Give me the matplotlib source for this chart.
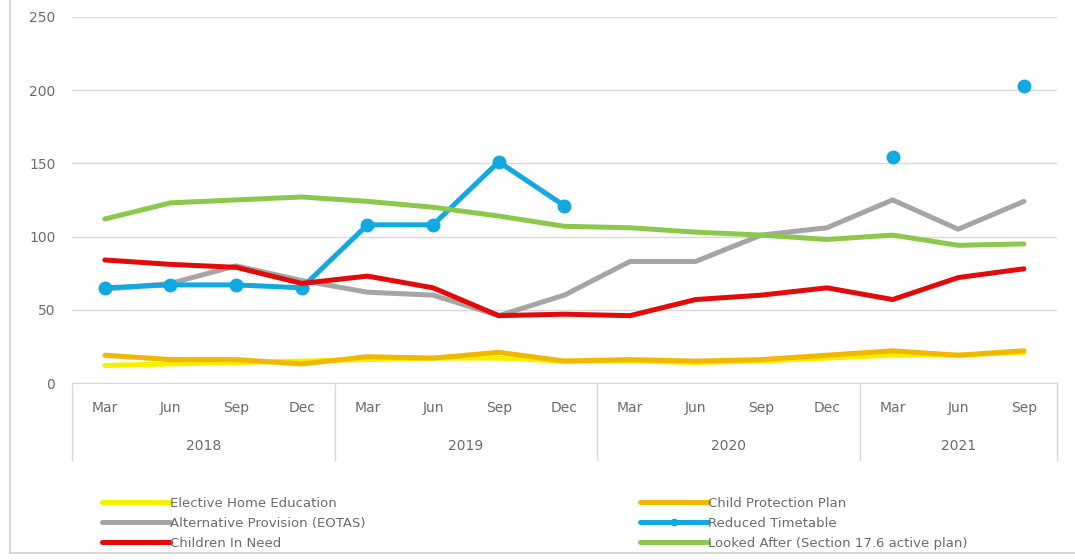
import numpy as np
import matplotlib.pyplot as plt
from matplotlib.lines import Line2D
from matplotlib.transforms import blended_transform_factory

plt.rcParams['font.family'] = ['DejaVu Sans']

months = ["Mar", "Jun", "Sep", "Dec", "Mar", "Jun", "Sep", "Dec",
          "Mar", "Jun", "Sep", "Dec", "Mar", "Jun", "Sep"]
years = ["2018", "2019", "2020", "2021"]
year_sizes = [4, 4, 4, 3]

nan = np.nan
elective_home = [12, 13, 14, 15, 16, 17, 17, 15, 15, 14, 15, 17, 19, 19, 21]
child_protection = [19, 16, 16, 13, 18, 17, 21, 15, 16, 15, 16, 19, 22, 19, 22]
alt_provision = [64, 68, 80, 70, 62, 60, 46, 60, 83, 83, 101, 106, 125, 105, 124]
reduced_tt = [65, 67, 67, 65, 108, 108, 151, 121, nan, nan, nan, nan, 154, nan, 203]
children_need = [84, 81, 79, 68, 73, 65, 46, 47, 46, 57, 60, 65, 57, 72, 78]
looked_after = [112, 123, 125, 127, 124, 120, 114, 107, 106, 103, 101, 98, 101, 94, 95]

x = np.arange(len(months))

fig = plt.figure(figsize=(10.75, 5.6), dpi=100)
ax = fig.add_axes([0.067, 0.316, 0.916, 0.654])

txt = "#6b6b6b"
grid = "#d9d9d9"
lw = 3.6

l_yel, = ax.plot(x, elective_home, color="#f7ef00", lw=lw, solid_capstyle="round")
l_org, = ax.plot(x, child_protection, color="#f2b700", lw=lw, solid_capstyle="round")
l_gry, = ax.plot(x, alt_provision, color="#a5a5a5", lw=lw, solid_capstyle="round")
l_blu, = ax.plot(x, reduced_tt, color="#12a8e2", lw=lw, marker="o", ms=9,
                 solid_capstyle="round")
l_red, = ax.plot(x, children_need, color="#e30a0a", lw=lw, solid_capstyle="round")
l_grn, = ax.plot(x, looked_after, color="#8cc84b", lw=lw, solid_capstyle="round")

ax.set_ylim(0, 250)
ax.set_xlim(-0.5, len(months) - 0.5)
ax.set_yticks(range(0, 251, 50))
ax.yaxis.grid(True, color=grid, lw=1)
ax.set_axisbelow(True)
for s in ["top", "right", "left"]:
    ax.spines[s].set_visible(False)
ax.spines["bottom"].set_color(grid)
ax.tick_params(axis="y", length=0, pad=12, labelsize=10, labelcolor=txt)
ax.tick_params(axis="x", length=0, pad=13, labelsize=10, labelcolor=txt)
ax.set_xticks(x)
ax.set_xticklabels(months)

# multi-level category axis: year labels and group separators
tr = blended_transform_factory(ax.transData, ax.transAxes)
start = 0
bounds = [-0.5]
for yr, n in zip(years, year_sizes):
    mid = start + (n - 1) / 2
    ax.text(mid, -0.172, yr, transform=tr, ha="center", va="center",
            fontsize=10, color=txt)
    start += n
    bounds.append(start - 0.5)
for b in bounds:
    ax.add_line(Line2D([b, b], [0, -0.21], transform=tr, color=grid,
                       lw=1, clip_on=False))

# legend, two columns
leg_kw = dict(frameon=False, fontsize=9.5, handlelength=5.15, handletextpad=0.05,
              labelspacing=0.55, borderpad=0, labelcolor=txt, loc="upper left")
fig.legend([l_yel, l_gry, l_red],
           ["Elective Home Education", "Alternative Provision (EOTAS)", "Children In Need"],
           bbox_to_anchor=(95 / 1075, 1 - 490 / 560), **leg_kw)
fig.legend([l_org, l_blu, l_grn],
           ["Child Protection Plan", "Reduced Timetable",
            "Looked After (Section 17.6 active plan)"],
           bbox_to_anchor=(633 / 1075, 1 - 490 / 560), markerscale=0.5, **leg_kw)

# chart border
fig.add_artist(Line2D([10 / 1075, 10 / 1075], [7 / 560, 1], color="#d0d0d0", lw=1.2))
fig.add_artist(Line2D([10 / 1075, 1], [7 / 560, 7 / 560], color="#d0d0d0", lw=1.2))

fig.savefig("out.png", dpi=100)
